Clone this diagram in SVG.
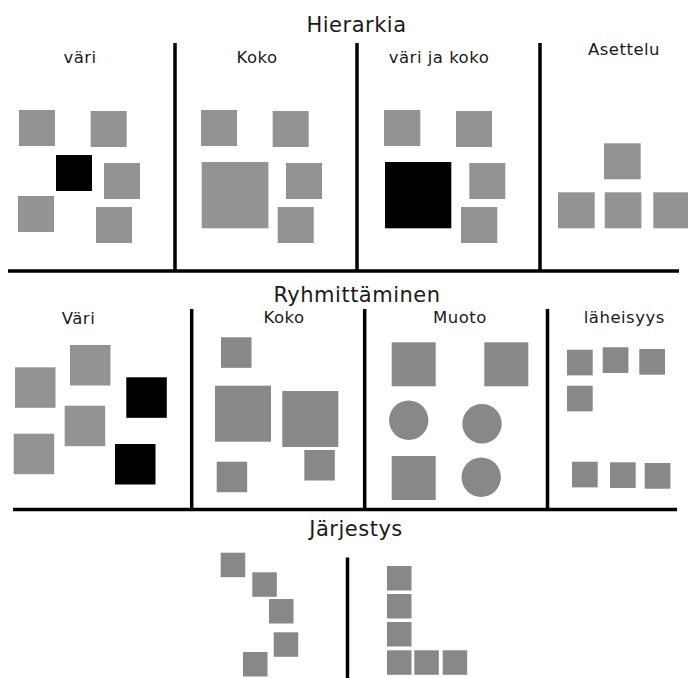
<svg xmlns="http://www.w3.org/2000/svg" width="688" height="678" viewBox="0 0 688 678">
<style>
.t{font-family:"DejaVu Sans",Verdana,sans-serif;fill:#1a1a1a;text-anchor:middle}
.h{font-size:21px;letter-spacing:0.5px}
.l{font-size:16.5px;letter-spacing:0.5px}
.g1{fill:#939393}
.g2{fill:#888888}
.k{fill:#000}
.ln{stroke:#000;stroke-width:3.5;fill:none}
</style>
<rect width="688" height="678" fill="#fff"/>
<g id="connectors">
<line class="ln" x1="8" y1="271" x2="679" y2="271"/>
<line class="ln" x1="175" y1="43" x2="175" y2="271"/>
<line class="ln" x1="357" y1="43" x2="357" y2="271"/>
<line class="ln" x1="540" y1="43" x2="540" y2="271"/>
<line class="ln" x1="13" y1="509.5" x2="677" y2="509.5"/>
<line class="ln" x1="191.7" y1="309" x2="191.7" y2="509"/>
<line class="ln" x1="364.7" y1="309" x2="364.7" y2="509"/>
<line class="ln" x1="547.5" y1="309" x2="547.5" y2="509"/>
<line class="ln" x1="347.5" y1="557.5" x2="347.5" y2="678"/>
</g>
<g id="hierarkia">
<text class="t h" x="356.5" y="31.5">Hierarkia</text>
</g>
<g id="h-vari">
<text class="t l" x="80" y="63">väri</text>
<rect class="g1" x="19" y="110" width="36" height="36"/>
<rect class="g1" x="90.7" y="111" width="36" height="36"/>
<rect class="k" x="56" y="155" width="36" height="36"/>
<rect class="g1" x="104" y="163" width="36" height="36"/>
<rect class="g1" x="18" y="196" width="36" height="36"/>
<rect class="g1" x="96" y="207" width="36" height="36"/>
</g>
<g id="h-koko">
<text class="t l" x="257" y="63">Koko</text>
<rect class="g1" x="201" y="110" width="36" height="36"/>
<rect class="g1" x="272.7" y="111" width="36" height="36"/>
<rect class="g1" x="201.7" y="162" width="66.7" height="66.3"/>
<rect class="g1" x="286" y="163" width="36" height="36"/>
<rect class="g1" x="277.7" y="207" width="36" height="36"/>
</g>
<g id="h-varijakoko">
<text class="t l" x="439" y="63">väri ja koko</text>
<rect class="g1" x="384" y="110" width="36.3" height="36"/>
<rect class="g1" x="456" y="111" width="36" height="36"/>
<rect class="k" x="385" y="162" width="66.3" height="66.3"/>
<rect class="g1" x="469.3" y="163" width="36" height="36"/>
<rect class="g1" x="461" y="207" width="36.3" height="36"/>
</g>
<g id="h-asettelu">
<text class="t l" x="624" y="55">Asettelu</text>
<rect class="g1" x="604" y="143.3" width="36.7" height="36"/>
<rect class="g1" x="558" y="192.3" width="36.7" height="36"/>
<rect class="g1" x="604.7" y="192.3" width="36.7" height="36"/>
<rect class="g1" x="653.3" y="192.3" width="36.7" height="36"/>
</g>
<g id="ryhmittaminen">
<text class="t h" x="357" y="301.7">Ryhmittäminen</text>
</g>
<g id="r-vari">
<text class="t l" x="78.5" y="324">Väri</text>
<rect class="g1" x="15" y="367.3" width="40.5" height="40.5"/>
<rect class="g1" x="70" y="345" width="40.5" height="40.5"/>
<rect class="k" x="126.3" y="377.3" width="40.5" height="40.5"/>
<rect class="g1" x="64.7" y="405.7" width="40.5" height="40.5"/>
<rect class="g1" x="13.7" y="433.7" width="40.5" height="40.5"/>
<rect class="k" x="115" y="444" width="40.5" height="40.5"/>
</g>
<g id="r-koko">
<text class="t l" x="284" y="323">Koko</text>
<rect class="g2" x="221" y="337.3" width="30.5" height="30.5"/>
<rect class="g2" x="215" y="385.7" width="56" height="56"/>
<rect class="g2" x="282.3" y="391" width="56" height="56"/>
<rect class="g2" x="216.7" y="461.7" width="30.5" height="30.5"/>
<rect class="g2" x="304.3" y="450" width="30.5" height="30.5"/>
</g>
<g id="r-muoto">
<text class="t l" x="460" y="323">Muoto</text>
<rect class="g2" x="391.7" y="342.3" width="44" height="44"/>
<rect class="g2" x="484.3" y="342.3" width="44" height="44"/>
<circle class="g2" cx="408.7" cy="420.3" r="19.7"/>
<circle class="g2" cx="482" cy="423.7" r="19.7"/>
<rect class="g2" x="391.7" y="456" width="44" height="44"/>
<circle class="g2" cx="481.2" cy="477.3" r="19.7"/>
</g>
<g id="r-laheisyys">
<text class="t l" x="624.3" y="323">läheisyys</text>
<rect class="g2" x="567" y="349.7" width="25.7" height="25.7"/>
<rect class="g2" x="602.7" y="347.3" width="25.7" height="25.7"/>
<rect class="g2" x="639.3" y="349" width="25.7" height="25.7"/>
<rect class="g2" x="567" y="385.7" width="25.7" height="25.7"/>
<rect class="g2" x="572" y="461.7" width="25.7" height="25.7"/>
<rect class="g2" x="610" y="462.3" width="25.7" height="25.7"/>
<rect class="g2" x="644.7" y="463" width="25.7" height="25.7"/>
</g>
<g id="jarjestys">
<text class="t h" x="356" y="536">Järjestys</text>
</g>
<g id="j-left">
<rect class="g2" x="220.7" y="552.7" width="24.5" height="24.5"/>
<rect class="g2" x="252.3" y="572.3" width="24.5" height="24.5"/>
<rect class="g2" x="269" y="599" width="24.5" height="24.5"/>
<rect class="g2" x="273.7" y="632.3" width="24.5" height="24.5"/>
<rect class="g2" x="243" y="652" width="24.5" height="24.5"/>
</g>
<g id="j-right">
<rect class="g2" x="387" y="566" width="24.5" height="24.5"/>
<rect class="g2" x="387" y="594" width="24.5" height="24.5"/>
<rect class="g2" x="387" y="622" width="24.5" height="24.5"/>
<rect class="g2" x="387" y="650.3" width="24.5" height="24.5"/>
<rect class="g2" x="414.3" y="650.3" width="24.5" height="24.5"/>
<rect class="g2" x="442.7" y="650.3" width="24.5" height="24.5"/>
</g>
</svg>
